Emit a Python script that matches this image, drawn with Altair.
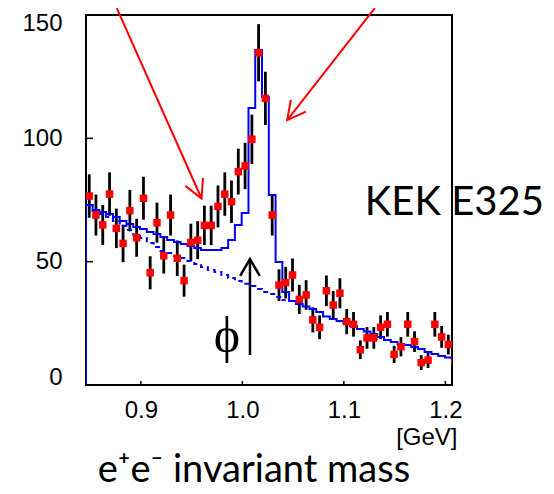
import altair as alt
import pandas as pd

# ---- data ----
mass = [0.8492, 0.8558, 0.8625, 0.8692, 0.8759, 0.8825, 0.8892, 0.8959, 0.9026, 0.9092,
        0.9159, 0.9226, 0.9293, 0.9359, 0.9426, 0.9493, 0.9560, 0.9626, 0.9693, 0.9760,
        0.9827, 0.9893, 0.9960, 1.0027, 1.0094, 1.0160, 1.0227, 1.0294, 1.0361, 1.0427,
        1.0494, 1.0561, 1.0628, 1.0694, 1.0761, 1.0828, 1.0895, 1.0961, 1.1028, 1.1095,
        1.1162, 1.1228, 1.1295, 1.1362, 1.1429, 1.1495, 1.1562, 1.1629, 1.1696, 1.1762,
        1.1829, 1.1896, 1.1963, 1.2029, 1.2096]
counts = [76.6, 68.9, 64.9, 77.4, 63.5, 57.4, 70.7, 59.7, 75.7, 45.5,
          65.8, 52.4, 68.9, 51.4, 42.3, 57.8, 58.7, 64.7, 64.7, 72.4,
          77.4, 74.3, 86.5, 88.8, 99.6, 134.7, 116.2, 68.9, 40.5, 41.5,
          44.6, 34.7, 36.5, 26.4, 23.4, 38.2, 32.4, 37.2, 25.7, 24.6,
          14.3, 19.1, 19.1, 23.4, 24.6, 12.4, 15.5, 24.6, 17.6, 9.1,
          10.1, 24.6, 19.5, 16.4, 9.7]
errors = [8.8, 8.3, 8.1, 8.8, 8.0, 7.6, 8.4, 7.7, 8.7, 6.7,
          8.1, 7.2, 8.3, 7.2, 6.5, 7.6, 7.7, 8.0, 8.0, 8.5,
          8.8, 8.6, 9.3, 9.4, 10.0, 11.6, 10.8, 8.3, 6.4, 6.4,
          6.7, 5.9, 6.0, 5.1, 4.8, 6.2, 5.7, 6.1, 5.1, 5.0,
          3.8, 4.4, 4.4, 4.8, 5.0, 3.5, 3.9, 5.0, 4.2, 3.0,
          3.2, 5.0, 4.4, 4.0, 3.1]
fit = [73.0, 70.9, 70.1, 69.3, 68.1, 66.5, 65.3, 64.1, 63.2, 62.0,
       61.2, 60.0, 58.8, 58.0, 57.2, 56.4, 55.5, 54.7, 54.7, 54.7,
       55.5, 58.8, 64.9, 69.7, 112.3, 135.8, 116.8, 77.0, 49.9, 37.7,
       34.1, 32.8, 31.8, 30.8, 29.6, 27.8, 26.8, 25.9, 25.1, 23.9,
       22.7, 21.7, 20.7, 19.5, 18.2, 17.4, 16.6, 16.2, 15.4, 14.6,
       13.4, 12.6, 11.8, 11.1, 10.7]
background = [73.0, 70.5, 69.3, 68.1, 66.5, 64.5, 62.8, 60.8, 59.6, 57.6,
              55.9, 54.3, 53.5, 52.3, 51.5, 50.3, 49.1, 47.8, 46.6, 45.8,
              44.6, 43.4, 42.2, 41.0, 40.1, 38.9, 37.7, 36.9, 35.7, 34.5]

X_DOMAIN = [0.846, 1.2065]
Y_DOMAIN = [0, 150]
X_TICKS = [0.9, 1.0, 1.1, 1.2]
Y_TICKS = [0, 50, 100, 150]

# annotations (data coordinates)
red_tail_x = [0.8763, 1.1305]
red_tail_y = [152.8, 152.8]
red_tip_x = [0.9598, 1.0442]
red_tip_y = [75.6, 107.4]
red_angle = [156, 218]
phi_arrow_x = [1.0075]
phi_arrow_lo = [12.2]
phi_arrow_hi = [51.1]

# ---- tables ----
pts = pd.DataFrame({"m": mass, "n": counts, "e": errors})
pts["lo"] = pts["n"] - pts["e"]
pts["hi"] = pts["n"] + pts["e"]

fit_df = pd.DataFrame({"m": [X_DOMAIN[0], X_DOMAIN[0]] + mass,
                       "v": [0.0, fit[0]] + fit})
fit_df["i"] = range(len(fit_df))
bkg_df = pd.DataFrame({"m": mass[:len(background)], "v": background})

xscale = alt.Scale(domain=X_DOMAIN, nice=False, zero=False)
yscale = alt.Scale(domain=Y_DOMAIN, nice=False)
xaxis = alt.Axis(values=X_TICKS, format=".1f", ticks=False, tickSize=0, domain=False,
                 grid=False, labelFont="Liberation Sans", labelFontSize=24,
                 labelColor="black", labelBaseline="alphabetic", labelPadding=32,
                 title="[GeV]", titleFont="Liberation Sans", titleFontSize=24,
                 titleFontWeight="normal", titleColor="black", titleAlign="right",
                 titleBaseline="alphabetic", titleX=371, titleY=59, titleAngle=0)
yaxis = alt.Axis(values=Y_TICKS, ticks=False, tickSize=0, domain=False, grid=False,
                 labelFont="Liberation Sans", labelFontSize=24, labelColor="black",
                 labelPadding=24, labelFlush=True, labelFlushOffset=4, title=None)


def X(f):
    return alt.X(f, type="quantitative", scale=xscale, axis=xaxis)


def Y(f):
    return alt.Y(f, type="quantitative", scale=yscale, axis=yaxis)


solid = alt.Chart(fit_df).mark_line(color="#0000ff", strokeWidth=2, interpolate="step",
                                    clip=True).encode(x=X("m"), y=Y("v"), order="i:Q")
dashed = alt.Chart(bkg_df).mark_line(color="#0000ff", strokeWidth=2, interpolate="step",
                                     strokeDash=[5, 4], clip=True).encode(x=X("m"), y=Y("v"))
bars = alt.Chart(pts).mark_rule(color="black", strokeWidth=2.8, clip=True).encode(
    x=X("m"), y=Y("lo"), y2="hi")
squares = alt.Chart(pts).mark_square(color="#ff0000", size=56, opacity=1, clip=True).encode(
    x=X("m"), y=Y("n"))

ytick = alt.Chart(pd.DataFrame({"v": Y_TICKS})).mark_rule(color="black", strokeWidth=1.5).encode(
    y=Y("v"), x=alt.value(0), x2=alt.value(7))
xtick = alt.Chart(pd.DataFrame({"v": X_TICKS})).mark_rule(color="black", strokeWidth=1.5).encode(
    x=X("v"), y=alt.value(370), y2=alt.value(366))

red_df = pd.DataFrame({"x": red_tail_x, "y": red_tail_y, "x2": red_tip_x, "y2": red_tip_y,
                       "ang": red_angle})
red_lines = alt.Chart(red_df).mark_rule(color="#ff0000", strokeWidth=2).encode(
    x=X("x"), y=Y("y"), x2="x2", y2="y2")
red_heads = alt.Chart(red_df).mark_point(shape="M -0.53 1 L 0 0 L 0.53 1", filled=False,
                                         size=1318, stroke="#ff0000", strokeWidth=2,
                                         opacity=1).encode(
    x=X("x2"), y=Y("y2"), angle=alt.Angle("ang:Q", scale=None))

phi_df = pd.DataFrame({"x": phi_arrow_x, "lo": phi_arrow_lo, "hi": phi_arrow_hi})
phi_line = alt.Chart(phi_df).mark_rule(color="black", strokeWidth=2.5).encode(
    x=X("x"), y=Y("lo"), y2="hi")
phi_head = alt.Chart(phi_df).mark_point(shape="M -0.577 1 L 0 0 L 0.577 1", filled=False,
                                        size=1156, stroke="black", strokeWidth=2.5,
                                        opacity=1).encode(x=X("x"), y=Y("hi"))

labels_df = pd.DataFrame({
    "x": [0.9849, 1.1206],
    "y": [13.5, 68.9],
    "t": ["ϕ", "KEK E325"],
})
phi_text = alt.Chart(labels_df.iloc[[0]]).mark_text(
    font="Liberation Serif", fontSize=50, align="center", baseline="alphabetic",
    color="black").encode(x=X("x"), y=Y("y"), text="t:N")
kek_text = alt.Chart(labels_df.iloc[[1]]).mark_text(
    font="Lato", fontSize=40, align="left", baseline="alphabetic",
    color="black").encode(x=X("x"), y=Y("y"), text="t:N")
title_df = pd.DataFrame({"x": [1.0114], "y": [-39.3], "t": ["e⁺e⁻ invariant mass"]})
title_text = alt.Chart(title_df).mark_text(
    font="Lato", fontSize=38, align="center", baseline="alphabetic",
    color="black").encode(x=X("x"), y=Y("y"), text="t:N")

chart = alt.layer(
    bars, solid, dashed, squares, ytick, xtick, red_lines, red_heads,
    phi_line, phi_head, phi_text, kek_text, title_text
).properties(
    width=366, height=370,
    padding={"left": 78, "top": 7, "right": 94, "bottom": 101},
    autosize=alt.AutoSizeParams(type="none"),
    background="white",
).configure_view(stroke="black", strokeWidth=2)

chart.save("out.html", embed_options={"renderer": "svg", "actions": False})
